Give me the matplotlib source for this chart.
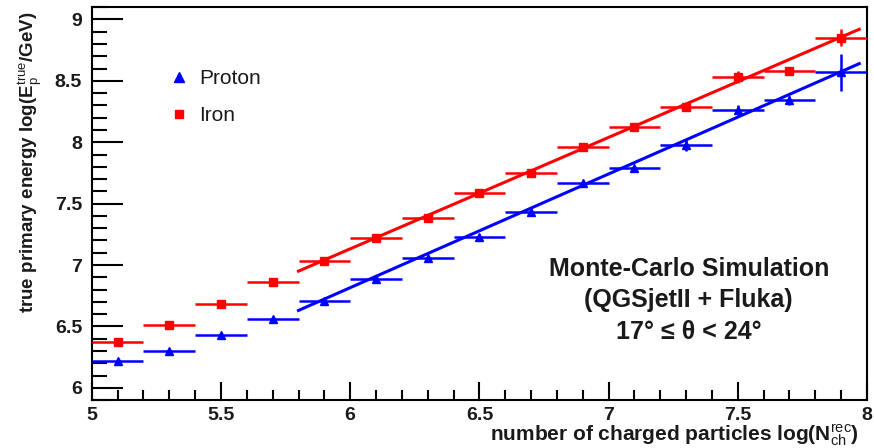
import matplotlib
matplotlib.use("Agg")
import matplotlib.pyplot as plt
from matplotlib.lines import Line2D
from matplotlib.ticker import MultipleLocator, FuncFormatter

plt.rcParams['font.family'] = ['Liberation Sans', 'DejaVu Sans']
plt.rcParams['mathtext.fontset'] = 'custom'
plt.rcParams['mathtext.rm'] = 'Liberation Sans'
plt.rcParams['mathtext.it'] = 'Liberation Sans:italic'
plt.rcParams['mathtext.bf'] = 'Liberation Sans:bold'

# Data: bin centres in log(N_ch^rec) and mean true energy
x_bins = [5.1, 5.3, 5.5, 5.7, 5.9, 6.1, 6.3, 6.5, 6.7, 6.9, 7.1, 7.3, 7.5, 7.7, 7.9]
x_half_width = [0.1] * 15

iron = [6.37, 6.51, 6.68, 6.86, 7.03, 7.22, 7.38, 7.59, 7.75, 7.96, 8.12, 8.29, 8.53, 8.58, 8.85]
iron_err = [0.01, 0.01, 0.01, 0.01, 0.01, 0.01, 0.01, 0.01, 0.01, 0.02, 0.02, 0.02, 0.05, 0.02, 0.07]

proton = [6.22, 6.30, 6.43, 6.56, 6.71, 6.89, 7.06, 7.23, 7.43, 7.67, 7.79, 7.98, 8.26, 8.34, 8.57]
proton_err = [0.01, 0.01, 0.01, 0.01, 0.01, 0.01, 0.01, 0.02, 0.02, 0.02, 0.02, 0.05, 0.04, 0.04, 0.15]

# Linear fits drawn over the fitted range
fit_x = [5.8, 7.97]
iron_fit = [6.95, 8.92]
proton_fit = [6.63, 8.64]

RED = '#ff0000'
BLUE = '#0000ff'
TXT = '#1a1a1a'

fig = plt.figure(figsize=(8.74, 4.48), dpi=100)
ax = fig.add_axes([0.105, 0.107, 0.887, 0.877])

ax.errorbar(x_bins, iron, xerr=x_half_width, yerr=iron_err, fmt='s', color=RED,
            ms=6, elinewidth=1.8, capsize=0, zorder=3)
ax.errorbar(x_bins, proton, xerr=x_half_width, yerr=proton_err, fmt='^', color=BLUE,
            ms=6, elinewidth=1.8, capsize=0, zorder=3)
ax.plot(fit_x, iron_fit, color=RED, lw=2.2, zorder=2)
ax.plot(fit_x, proton_fit, color=BLUE, lw=2.2, zorder=2)

ax.set_xlim(5, 8)
ax.set_ylim(5.9, 9.1)
ax.xaxis.set_major_locator(MultipleLocator(0.5))
ax.xaxis.set_minor_locator(MultipleLocator(0.1))
ax.yaxis.set_major_locator(MultipleLocator(0.5))
ax.yaxis.set_minor_locator(MultipleLocator(0.1))
ax.xaxis.set_major_formatter(FuncFormatter(lambda v, p: f"{v:g}"))
ax.yaxis.set_major_formatter(FuncFormatter(lambda v, p: f"{v:g}"))
ax.tick_params(axis='x', which='major', direction='in', length=13, width=1.5, pad=5)
ax.tick_params(axis='x', which='minor', direction='in', length=7, width=1.5)
ax.tick_params(axis='y', which='major', direction='in', length=22, width=1.5, pad=7)
ax.tick_params(axis='y', which='minor', direction='in', length=11, width=1.5)
for lab in ax.get_xticklabels() + ax.get_yticklabels():
    lab.set_fontweight('bold')
    lab.set_fontsize(14)
    lab.set_color(TXT)
for s in ax.spines.values():
    s.set_linewidth(1.5)

ax.set_ylabel(r'true primary energy log(E$_{\rm p}^{\rm true}$/GeV)', fontsize=13.5,
              fontweight='bold', ha='right', color=TXT)
ax.yaxis.set_label_coords(-0.062, 0.99)
ax.set_xlabel(r'number of charged particles log(N$_{\rm ch}^{\rm rec}$)', fontsize=15,
              fontweight='bold', ha='right', va='baseline', color=TXT)
ax.xaxis.set_label_coords(0.99, -0.104)

handles = [Line2D([], [], marker='^', color=BLUE, ls='none', ms=7),
           Line2D([], [], marker='s', color=RED, ls='none', ms=6)]
ax.legend(handles, ['Proton', 'Iron'], loc='upper left', bbox_to_anchor=(0.075, 0.89),
          frameon=False, fontsize=15, labelspacing=0.85, handletextpad=0.45,
          handlelength=1.0, labelcolor=TXT)

ax.text(0.77, 0.333, 'Monte-Carlo Simulation', transform=ax.transAxes, ha='center',
        va='center', fontsize=18, fontweight='bold', color=TXT)
ax.text(0.77, 0.254, '(QGSjetII + Fluka)', transform=ax.transAxes, ha='center',
        va='center', fontsize=18, fontweight='bold', color=TXT)
ax.text(0.77, 0.173, '17° ≤ θ < 24°', transform=ax.transAxes, ha='center',
        va='center', fontsize=18, fontweight='bold', color=TXT)

fig.savefig('out.png', dpi=100)
